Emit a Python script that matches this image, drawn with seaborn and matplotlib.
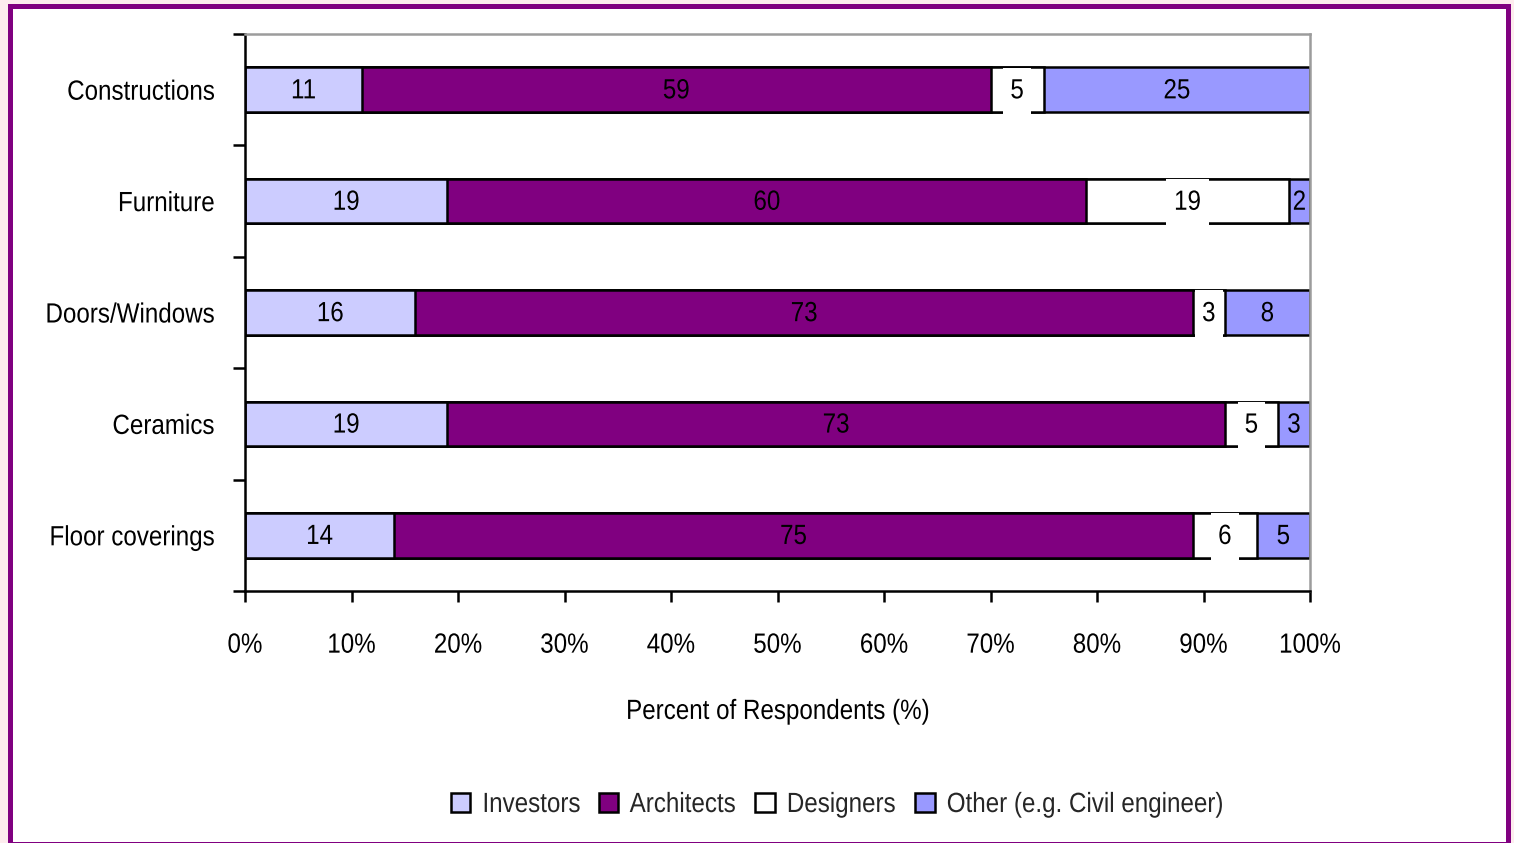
import numpy as np
import pandas as pd
import matplotlib
matplotlib.use("Agg")
import matplotlib.pyplot as plt
import seaborn as sns
from matplotlib.patches import Rectangle, Patch
from matplotlib.patheffects import AbstractPathEffect
from matplotlib.transforms import Affine2D

# Survey shares (percent of respondents) per product group
categories = ["Constructions", "Furniture", "Doors/Windows", "Ceramics", "Floor coverings"]
investors = [11, 19, 16, 19, 14]
architects = [59, 60, 73, 73, 75]
designers = [5, 19, 3, 5, 6]
other = [25, 2, 8, 3, 5]

series_names = ["Investors", "Architects", "Designers", "Other (e.g. Civil engineer)"]
series_colors = ["#CCCCFF", "#800080", "#FFFFFF", "#9999FF"]
x_ticks = [0, 10, 20, 30, 40, 50, 60, 70, 80, 90, 100]
x_tick_labels = [f"{v}%" for v in x_ticks]
x_title = "Percent of Respondents (%)"


class Narrow(AbstractPathEffect):
    """Squeeze glyph outlines horizontally about a fixed anchor."""

    def __init__(self, sx=0.87, anchor="center"):
        super().__init__()
        self.sx = sx
        self.anchor = anchor

    def draw_path(self, renderer, gc, tpath, affine, rgbFace=None):
        ext = tpath.get_extents()
        if self.anchor == "right":
            cx = ext.x1
        elif self.anchor == "left":
            cx = ext.x0
        else:
            cx = 0.5 * (ext.x0 + ext.x1)
        squeeze = Affine2D().translate(-cx, 0).scale(self.sx, 1).translate(cx, 0)
        renderer.draw_path(gc, tpath, squeeze + affine, rgbFace)


sns.set_theme(style="white")
plt.rcParams["font.family"] = ["Liberation Sans", "DejaVu Sans"]

W, H = 1514, 843
FS = 20
LW = 1.8
fig = plt.figure(figsize=(W / 100, H / 100), dpi=100, facecolor="#FDECEE")

# white card with a purple frame
fig.patches.append(Rectangle((9.5 / W, 1 - 844 / H), (1507.5 - 9.5) / W, (844 - 5.5) / H,
                             transform=fig.transFigure, facecolor="white",
                             edgecolor="#800080", linewidth=3.6, zorder=-10))

ax = fig.add_axes([245 / W, 1 - 591 / H, (1310 - 245) / W, (591 - 34) / H])
ax.set_facecolor("white")

values = np.array([investors, architects, designers, other], dtype=float)
cum = np.cumsum(values, axis=0)

# stacked bars: draw the cumulative totals from the outermost series inwards
for i in range(len(series_names) - 1, -1, -1):
    df = pd.DataFrame({"category": categories, "value": cum[i]})
    sns.barplot(data=df, x="value", y="category", orient="y", color=series_colors[i],
                saturation=1, width=0.4, edgecolor="black", linewidth=LW,
                errorbar=None, ax=ax)

# segment value labels (white-backed for the Designers segment)
for i, name in enumerate(series_names):
    for j, cat in enumerate(categories):
        left = cum[i][j] - values[i][j]
        xc = left + values[i][j] / 2
        kw = {}
        if name == "Designers":
            kw["bbox"] = dict(boxstyle="square,pad=0.22", facecolor="white",
                              edgecolor="none", mutation_aspect=1.75)
        t = ax.annotate(f"{int(values[i][j])}", (xc, j), xytext=(0, -1.2),
                        textcoords="offset points", ha="center", va="center",
                        fontsize=FS, color="black", zorder=5, **kw)
        t.set_path_effects([Narrow(anchor="center")])

ax.set_xlim(0, 100)
ax.set_ylim(len(categories) - 0.5, -0.5)
ax.set_xticks(x_ticks)
ax.set_xticklabels(x_tick_labels)
ax.set_yticks(range(len(categories)))
ax.set_yticklabels(categories)
ax.set_yticks(np.arange(-0.5, len(categories), 1), minor=True)
ax.tick_params(axis="y", which="major", length=0, pad=22, labelsize=FS, colors="black")
ax.tick_params(axis="y", which="minor", left=True, length=8.5, width=LW, direction="out", color="black")
ax.tick_params(axis="x", which="major", bottom=True, length=8, width=LW, direction="out",
               color="black", pad=22, labelsize=FS, labelcolor="black")
ax.set_xlabel(x_title, fontsize=FS, labelpad=29, color="black")
ax.set_ylabel("")

for lab in ax.get_yticklabels():
    lab.set_path_effects([Narrow(anchor="right")])
for lab in ax.get_xticklabels():
    lab.set_path_effects([Narrow(anchor="center")])
ax.xaxis.label.set_path_effects([Narrow(anchor="center")])

for side in ["left", "bottom"]:
    ax.spines[side].set_color("black")
    ax.spines[side].set_linewidth(LW)
for side in ["top", "right"]:
    ax.spines[side].set_color("#9C9C9C")
    ax.spines[side].set_linewidth(LW)
for s in ax.spines.values():
    s.set_zorder(6)

handles = [Patch(facecolor=c, edgecolor="black", linewidth=LW) for c in series_colors]
leg = fig.legend(handles, series_names, loc="center left", bbox_to_anchor=(451 / W, 1 - 805 / H),
                 ncol=4, frameon=False, fontsize=FS, handlelength=0.7, handleheight=0.7,
                 handletextpad=0.42, columnspacing=0.15, borderpad=0, borderaxespad=0)
for t in leg.get_texts():
    t.set_path_effects([Narrow(anchor="left")])

fig.savefig("out.png", dpi=100, facecolor=fig.get_facecolor())
